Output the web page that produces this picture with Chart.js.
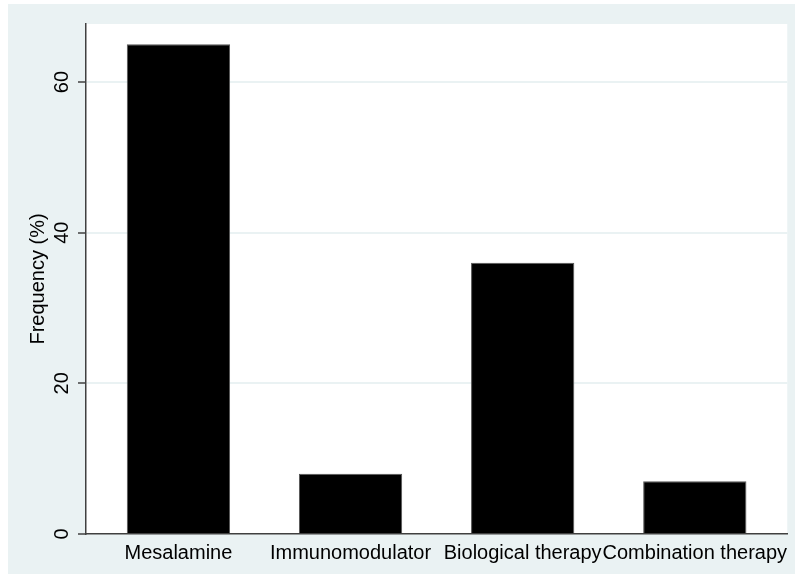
<!DOCTYPE html>
<html>
<head>
<meta charset="utf-8">
<script src="https://cdn.jsdelivr.net/npm/chart.js@4/dist/chart.umd.min.js"></script>
<style>
  html, body { margin: 0; padding: 0; background: #fff; }
  canvas { display: block; }
</style>
</head>
<body>
<canvas id="c" width="795" height="574"></canvas>
<script>
// Frecuencia (%) de cada tratamiento
const categories = ['Mesalamine', 'Immunomodulator', 'Biological therapy', 'Combination therapy'];
const frequency = [65, 8, 36, 7];
const yTicks = [0, 20, 40, 60];

const BG = '#eaf2f3';
const AXIS = '#404040';
const FONT = { family: '"Liberation Sans", Arial, Helvetica, sans-serif', size: 20 };

// fondo exterior estilo Stata + zona de gráfico blanca
const backdrop = {
  id: 'backdrop',
  beforeDraw(chart) {
    const { ctx, chartArea: a } = chart;
    ctx.save();
    ctx.fillStyle = BG;
    ctx.fillRect(8, 4, chart.width - 8, chart.height - 4);
    ctx.fillStyle = '#fff';
    ctx.fillRect(a.left, a.top, a.right - a.left, a.bottom - a.top);
    ctx.restore();
  }
};

new Chart(document.getElementById('c'), {
  type: 'bar',
  data: {
    datasets: [{
      data: categories.map((c, i) => ({ x: i, y: frequency[i] })),
      backgroundColor: '#000',
      borderColor: '#555',
      borderWidth: 1,
      barPercentage: 0.6,
      categoryPercentage: 1
    }]
  },
  options: {
    responsive: false,
    animation: false,
    layout: { padding: { top: 24, right: 7, left: 0, bottom: 0 } },
    plugins: { legend: { display: false }, tooltip: { enabled: false } },
    scales: {
      x: {
        type: 'linear',
        offset: false,
        min: -0.537,
        max: 3.537,
        grid: { display: false, drawTicks: false, offset: false },
        border: { display: true, color: AXIS, width: 1.5 },
        ticks: {
          stepSize: 1,
          includeBounds: false,
          autoSkip: false,
          maxRotation: 0,
          padding: 7,
          color: '#000',
          font: FONT,
          callback: (v) => categories[v] ?? ''
        },
        afterFit(scale) { scale.height = 40; }
      },
      y: {
        min: 0,
        max: 67.7,
        afterBuildTicks(scale) { scale.ticks = yTicks.map((v) => ({ value: v })); },
        grid: { color: BG, lineWidth: 2, tickLength: 8, tickColor: AXIS, tickWidth: 1.5 },
        border: { display: true, color: AXIS, width: 1.5 },
        ticks: {
          minRotation: 90,
          maxRotation: 90,
          crossAlign: 'center',
          padding: 4,
          color: '#000',
          font: FONT
        },
        title: {
          display: true,
          text: 'Frequency (%)',
          color: '#000',
          font: FONT,
          padding: { top: 26, bottom: 0 }
        },
        afterFit(scale) { scale.width = 86; }
      }
    }
  },
  plugins: [backdrop]
});
</script>
</body>
</html>
